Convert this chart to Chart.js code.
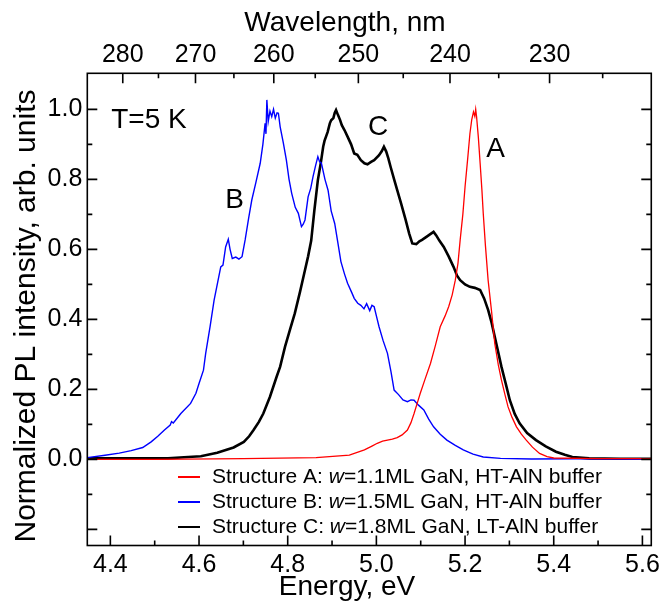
<!DOCTYPE html>
<html>
<head>
<meta charset="utf-8">
<script src="https://cdn.jsdelivr.net/npm/chart.js@4.4.1/dist/chart.umd.min.js"></script>
<style>
  html, body { margin: 0; padding: 0; background: #fff; }
</style>
</head>
<body>
<canvas id="plChart" width="665" height="606"></canvas>
<script>
// Energy (eV) / normalized PL intensity
var energyA = [4.348, 4.5, 4.7, 4.864, 4.939, 4.973, 4.99, 5.002, 5.014, 5.025, 5.036, 5.047, 5.058, 5.07, 5.078, 5.085, 5.092, 5.099, 5.11, 5.122, 5.133, 5.144, 5.155, 5.163, 5.171, 5.178, 5.184, 5.189, 5.195, 5.2, 5.206, 5.211, 5.215, 5.219, 5.222, 5.224, 5.226, 5.23, 5.234, 5.238, 5.241, 5.246, 5.252, 5.26, 5.267, 5.275, 5.282, 5.29, 5.297, 5.306, 5.316, 5.327, 5.338, 5.352, 5.368, 5.385, 5.4, 5.5, 5.62];
var intensA = [0, 0, 0.002, 0.005, 0.012, 0.027, 0.038, 0.046, 0.052, 0.055, 0.058, 0.062, 0.07, 0.084, 0.105, 0.131, 0.16, 0.189, 0.23, 0.274, 0.325, 0.379, 0.41, 0.436, 0.47, 0.512, 0.56, 0.627, 0.7, 0.779, 0.86, 0.931, 0.97, 0.993, 0.98, 1.0, 0.979, 0.92, 0.846, 0.77, 0.703, 0.61, 0.512, 0.42, 0.331, 0.27, 0.227, 0.185, 0.15, 0.12, 0.093, 0.072, 0.055, 0.035, 0.017, 0.008, 0.004, 0.002, 0.002];

var energyB = [4.348, 4.388, 4.42, 4.447, 4.473, 4.492, 4.507, 4.522, 4.535, 4.538, 4.542, 4.559, 4.581, 4.593, 4.6, 4.61, 4.615, 4.625, 4.634, 4.649, 4.654, 4.66, 4.666, 4.67, 4.675, 4.683, 4.69, 4.697, 4.704, 4.712, 4.719, 4.728, 4.738, 4.744, 4.749, 4.751, 4.753, 4.756, 4.76, 4.764, 4.768, 4.772, 4.776, 4.779, 4.783, 4.79, 4.797, 4.803, 4.809, 4.817, 4.824, 4.831, 4.835, 4.839, 4.846, 4.852, 4.857, 4.863, 4.868, 4.872, 4.876, 4.884, 4.891, 4.898, 4.906, 4.913, 4.92, 4.928, 4.935, 4.945, 4.95, 4.958, 4.965, 4.972, 4.978, 4.985, 4.99, 4.995, 5.0, 5.006, 5.015, 5.025, 5.033, 5.04, 5.05, 5.06, 5.07, 5.078, 5.085, 5.095, 5.107, 5.118, 5.129, 5.144, 5.159, 5.178, 5.196, 5.218, 5.241, 5.28, 5.35, 5.45, 5.55, 5.62];
var intensB = [0.005, 0.012, 0.018, 0.025, 0.034, 0.05, 0.066, 0.084, 0.098, 0.108, 0.104, 0.131, 0.16, 0.189, 0.217, 0.255, 0.303, 0.38, 0.455, 0.55, 0.555, 0.607, 0.629, 0.6, 0.574, 0.578, 0.572, 0.579, 0.627, 0.69, 0.741, 0.79, 0.846, 0.9, 0.96, 0.93, 1.027, 0.965, 0.995, 0.979, 1.0, 0.975, 0.99, 0.989, 0.95, 0.905, 0.855, 0.8, 0.76, 0.72, 0.703, 0.665, 0.672, 0.684, 0.75, 0.775, 0.807, 0.84, 0.865, 0.85, 0.846, 0.8, 0.769, 0.71, 0.674, 0.62, 0.565, 0.53, 0.503, 0.475, 0.46, 0.446, 0.44, 0.43, 0.445, 0.425, 0.44, 0.436, 0.41, 0.379, 0.34, 0.303, 0.25, 0.198, 0.185, 0.17, 0.165, 0.17, 0.169, 0.155, 0.141, 0.115, 0.093, 0.072, 0.055, 0.04, 0.027, 0.015, 0.007, 0.003, 0.001, 0.002, 0.001, 0];

var energyC = [4.348, 4.45, 4.53, 4.566, 4.604, 4.641, 4.678, 4.701, 4.713, 4.723, 4.735, 4.745, 4.76, 4.775, 4.783, 4.794, 4.805, 4.816, 4.828, 4.839, 4.846, 4.853, 4.86, 4.868, 4.875, 4.88, 4.883, 4.89, 4.895, 4.898, 4.903, 4.906, 4.909, 4.913, 4.918, 4.922, 4.928, 4.935, 4.943, 4.95, 4.957, 4.965, 4.973, 4.98, 4.988, 4.995, 5.006, 5.012, 5.017, 5.022, 5.027, 5.032, 5.04, 5.047, 5.056, 5.066, 5.074, 5.081, 5.09, 5.097, 5.103, 5.112, 5.12, 5.129, 5.135, 5.142, 5.152, 5.163, 5.174, 5.182, 5.189, 5.2, 5.211, 5.222, 5.234, 5.243, 5.252, 5.26, 5.267, 5.275, 5.282, 5.292, 5.301, 5.312, 5.323, 5.34, 5.36, 5.382, 5.405, 5.425, 5.442, 5.48, 5.55, 5.62];
var intensC = [0.003, 0.003, 0.003, 0.006, 0.009, 0.019, 0.034, 0.05, 0.066, 0.084, 0.107, 0.131, 0.179, 0.236, 0.265, 0.322, 0.37, 0.417, 0.48, 0.541, 0.58, 0.625, 0.71, 0.798, 0.85, 0.893, 0.91, 0.935, 0.96, 0.969, 0.975, 0.99, 0.998, 0.985, 0.97, 0.955, 0.941, 0.922, 0.9, 0.874, 0.87, 0.855, 0.846, 0.843, 0.85, 0.855, 0.869, 0.88, 0.893, 0.88, 0.86, 0.836, 0.8, 0.769, 0.73, 0.684, 0.645, 0.617, 0.615, 0.623, 0.627, 0.635, 0.642, 0.65, 0.64, 0.625, 0.607, 0.58, 0.55, 0.525, 0.512, 0.5, 0.493, 0.49, 0.484, 0.46, 0.427, 0.39, 0.35, 0.305, 0.265, 0.215, 0.169, 0.13, 0.103, 0.075, 0.055, 0.037, 0.022, 0.013, 0.007, 0.003, 0.002, 0.002];

// Tick values
var energyTicks = [4.4, 4.6, 4.8, 5.0, 5.2, 5.4, 5.6];
var energyMinor = [4.5, 4.7, 4.9, 5.1, 5.3, 5.5];
var waveTicks = [280, 270, 260, 250, 240, 230];
var waveMinor = [275, 265, 255, 245, 235, 225];
var intensTicks = [0, 0.2, 0.4, 0.6, 0.8, 1.0];
var intensMajorAll = [-0.2, 0, 0.2, 0.4, 0.6, 0.8, 1.0];
var intensMinor = [-0.1, 0.1, 0.3, 0.5, 0.7, 0.9];

// Legend text pieces
var structNames = ['Structure A', 'Structure B', 'Structure C'];
var wellWidths = ['1.1', '1.5', '1.8'];
var bufferNames = ['HT-AlN', 'HT-AlN', 'LT-AlN'];

// Curve labels
var peakLabels = ['A', 'B', 'C'];
var peakLabelE = [5.269, 4.680, 5.004];
var peakLabelI = [0.887, 0.739, 0.948];

var HC = 1239.84; // eV*nm
var FONT = 'Arial, "Liberation Sans", sans-serif';

function pts(xs, ys) {
  return xs.map(function (x, i) { return { x: x, y: ys[i] }; });
}

// Inward ticks and frame
var frameTicks = {
  id: 'frameTicks',
  afterDatasetsDraw: function (chart) {
    var ctx = chart.ctx, a = chart.chartArea;
    var xs = chart.scales.x, ys = chart.scales.y;
    ctx.save();
    ctx.strokeStyle = '#000';
    ctx.lineWidth = 1.6;
    ctx.strokeRect(a.left, a.top, a.right - a.left, a.bottom - a.top);
    ctx.beginPath();
    function hTick(v, len) {
      var px = xs.getPixelForValue(v);
      ctx.moveTo(px, a.bottom); ctx.lineTo(px, a.bottom - len);
    }
    function tTick(v, len) {
      var px = xs.getPixelForValue(v);
      ctx.moveTo(px, a.top); ctx.lineTo(px, a.top + len);
    }
    function vTick(v, len) {
      var py = ys.getPixelForValue(v);
      ctx.moveTo(a.left, py); ctx.lineTo(a.left + len, py);
      ctx.moveTo(a.right, py); ctx.lineTo(a.right - len, py);
    }
    energyTicks.forEach(function (v) { hTick(v, 10); });
    energyMinor.forEach(function (v) { hTick(v, 5); });
    waveTicks.forEach(function (l) { tTick(HC / l, 10); });
    waveMinor.forEach(function (l) { tTick(HC / l, 5); });
    intensMajorAll.forEach(function (v) { vTick(v, 10); });
    intensMinor.forEach(function (v) { vTick(v, 5); });
    ctx.stroke();
    ctx.restore();
  }
};

// Text: curve letters, temperature, legend, axis titles
var annotations = {
  id: 'annotations',
  afterDraw: function (chart) {
    var ctx = chart.ctx, xs = chart.scales.x, ys = chart.scales.y;
    ctx.save();
    ctx.fillStyle = '#000';
    ctx.font = '28px ' + FONT;
    ctx.textAlign = 'center';
    ctx.textBaseline = 'middle';
    peakLabels.forEach(function (t, i) {
      ctx.fillText(t, xs.getPixelForValue(peakLabelE[i]), ys.getPixelForValue(peakLabelI[i]));
    });
    ctx.textAlign = 'left';
    ctx.fillText('T=5 K', xs.getPixelForValue(4.402), ys.getPixelForValue(0.969));

    // legend
    var lx = 178, ly = 477, step = 25;
    chart.data.datasets.forEach(function (ds, i) {
      var y = ly + i * step;
      ctx.strokeStyle = ds.borderColor;
      ctx.lineWidth = 2;
      ctx.beginPath();
      ctx.moveTo(lx, y); ctx.lineTo(lx + 22, y);
      ctx.stroke();
      var x = lx + 34;
      var parts = [
        [structNames[i] + ': ', ''],
        ['w', 'italic '],
        ['=' + wellWidths[i] + 'ML GaN, ' + bufferNames[i] + ' buffer', '']
      ];
      parts.forEach(function (p) {
        ctx.font = p[1] + '21px ' + FONT;
        ctx.fillText(p[0], x, y);
        x += ctx.measureText(p[0]).width;
      });
    });

    // axis titles
    ctx.textAlign = 'center';
    ctx.font = '28px ' + FONT;
    ctx.fillText('Wavelength, nm', 345, 23);
    ctx.fillText('Energy, eV', 347, 587);
    ctx.font = '30px ' + FONT;
    ctx.translate(27, 316);
    ctx.rotate(-Math.PI / 2);
    ctx.fillText('Normalized PL intensity, arb. units', 0, 0);
    ctx.restore();
  }
};

var ctx = document.getElementById('plChart').getContext('2d');
var plChart = new Chart(ctx, {
  type: 'scatter',
  data: {
    datasets: [
      { label: 'A', data: pts(energyA, intensA), borderColor: '#ff0000', borderWidth: 1.3, showLine: true, pointRadius: 0, tension: 0 },
      { label: 'B', data: pts(energyB, intensB), borderColor: '#0000ff', borderWidth: 1.4, showLine: true, pointRadius: 0, tension: 0 },
      { label: 'C', data: pts(energyC, intensC), borderColor: '#000000', borderWidth: 2.6, showLine: true, pointRadius: 0, tension: 0 }
    ]
  },
  options: {
    responsive: false,
    animation: false,
    layout: { padding: { left: 0, right: 9, top: 0, bottom: 0 } },
    plugins: { legend: { display: false }, tooltip: { enabled: false } },
    scales: {
      x: {
        type: 'linear', position: 'bottom', min: 4.348, max: 5.62,
        afterBuildTicks: function (s) { s.ticks = energyTicks.map(function (v) { return { value: v }; }); },
        afterFit: function (s) { s.height = 60.5; },
        grid: { display: false, drawTicks: false },
        border: { display: false },
        ticks: { color: '#000', font: { family: FONT, size: 25 }, padding: 5, maxRotation: 0, autoSkip: false,
          callback: function (v) { return v.toFixed(1); } }
      },
      x2: {
        type: 'linear', position: 'top', min: 4.348, max: 5.62,
        afterBuildTicks: function (s) { s.ticks = waveTicks.map(function (l) { return { value: HC / l }; }); },
        afterFit: function (s) { s.height = 73.3; },
        grid: { display: false, drawTicks: false },
        border: { display: false },
        ticks: { color: '#000', font: { family: FONT, size: 25 }, padding: 3, maxRotation: 0, autoSkip: false,
          callback: function (v) { return String(Math.round(HC / v)); } }
      },
      y: {
        type: 'linear', min: -0.246, max: 1.103,
        afterBuildTicks: function (s) { s.ticks = intensTicks.map(function (v) { return { value: v }; }); },
        afterFit: function (s) { s.width = 87.3; },
        grid: { display: false, drawTicks: false },
        border: { display: false },
        ticks: { color: '#000', font: { family: FONT, size: 25 }, padding: 5, autoSkip: false,
          callback: function (v) { return v.toFixed(1); } }
      }
    }
  },
  plugins: [frameTicks, annotations]
});
</script>
</body>
</html>
